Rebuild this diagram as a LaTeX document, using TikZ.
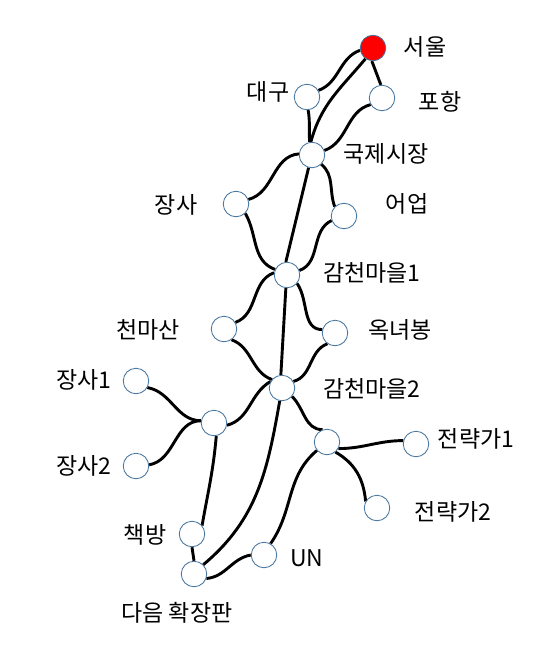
\documentclass[tikz,border=0pt]{standalone}
\usepackage{fontspec}
\setmainfont{Noto Sans CJK KR}
\usetikzlibrary{backgrounds}
\definecolor{stnblue}{HTML}{41719C}
\tikzset{
  stn/.style={circle, draw=stnblue, fill=white, line width=0.8pt, minimum size=25.5pt, inner sep=0pt},
  hub/.style={stn, fill=red},
  rail/.style={line width=2.9pt, draw=black},
  lbl/.style={font=\fontsize{23}{26}\selectfont, inner sep=0pt, anchor=center}
}
\begin{document}
\begin{tikzpicture}[x=1pt, y=-1pt]
\useasboundingbox (0,0) rectangle (549,653);
% stations
\node[hub] (seoul) at (373,48) {};
\node[stn] (daegu) at (307,97) {};
\node[stn] (pohang) at (382,98) {};
\node[stn] (gukje) at (312,155) {};
\node[stn] (jangsa) at (236,204) {};
\node[stn] (eoup) at (344,216) {};
\node[stn] (gc1) at (287,275) {};
\node[stn] (cheon) at (224,329) {};
\node[stn] (okn) at (335,333) {};
\node[stn] (gc2) at (282,388) {};
\node[stn] (js1) at (136,381) {};
\node[stn] (jhub) at (214,423) {};
\node[stn] (js2) at (136,466) {};
\node[stn] (shub) at (327,442) {};
\node[stn] (st1) at (416,444) {};
\node[stn] (st2) at (377,508) {};
\node[stn] (chaek) at (192,534) {};
\node[stn] (nxt) at (194,574) {};
\node[stn] (un) at (264,555) {};
% labels
\node[lbl] (lseoul) at (425,47) {서울};
\node[lbl] (ldaegu) at (268,92) {대구};
\node[lbl] (lpohang) at (440,102) {포항};
\node[lbl] (lgukje) at (386,154) {국제시장};
\node[lbl] (ljangsa) at (176,205) {장사};
\node[lbl] (leoup) at (407,204) {어업};
\node[lbl] (lgc1) at (372,273) {감천마을1};
\node[lbl] (lcheon) at (148,330) {천마산};
\node[lbl] (lokn) at (400,330) {옥녀봉};
\node[lbl] (lgc2) at (372,389) {감천마을2};
\node[lbl] (ljs1) at (84,380) {장사1};
\node[lbl] (ljs2) at (84,466) {장사2};
\node[lbl] (lst1) at (476,439) {전략가1};
\node[lbl] (lst2) at (453,512) {전략가2};
\node[lbl] (lchaek) at (145,535) {책방};
\node[lbl] (lun) at (307,558) {UN};
\node[lbl] (lnxt) at (177,613) {다음 확장판};
% rails
\begin{scope}[on background layer]
\draw[rail] (seoul.190) to[out=200, in=20] (daegu.30);
\draw[rail] (seoul.235) to[out=230, in=75] (gukje.95);
\draw[rail] (seoul.-95) -- (pohang.95);
\draw[rail] (daegu.-85) to[out=-80, in=95] (gukje.100);
\draw[rail] (pohang.210) to[out=195, in=20] (gukje.20);
\draw[rail] (gukje.175) to[out=185, in=15] (jangsa.20);
\draw[rail] (gukje.-45) to[out=-40, in=110] (eoup.135);
\draw[rail] (gukje.-105) -- (gc1.95);
\draw[rail] (jangsa.-45) to[out=-60, in=160] (gc1.155);
\draw[rail] (eoup.200) to[out=205, in=20] (gc1.20);
\draw[rail] (gc1.170) to[out=200, in=20] (cheon.30);
\draw[rail] (gc1.-40) to[out=-55, in=180] (okn.165);
\draw[rail] (gc1.-95) -- (gc2.95);
\draw[rail] (cheon.-55) to[out=-20, in=160] (gc2.140);
\draw[rail] (okn.-125) to[out=200, in=15] (gc2.30);
\draw[rail] (gc2.150) to[out=210, in=15] (jhub.-10);
\draw[rail] (js1.-30) to[out=-10, in=180] (jhub.170);
\draw[rail] (js2.5) to[out=10, in=180] (jhub.170);
\draw[rail] (jhub.-80) to[out=-95, in=80] (chaek.40);
\draw[rail] (chaek.-90) -- (nxt.90);
\draw[rail] (gc2.-100) to[out=-100, in=40] (nxt.45);
\draw[rail] (gc2.-40) to[out=-45, in=180] (shub.110);
\draw[rail] (shub.-30) to[out=0, in=180] (st1.165);
\draw[rail] (shub.-50) to[out=-30, in=95] (st2.150);
\draw[rail] (shub.-140) to[out=220, in=55] (un.60);
\draw[rail] (un.180) to[out=190, in=5] (nxt.-20);
\end{scope}
\end{tikzpicture}
\end{document}
